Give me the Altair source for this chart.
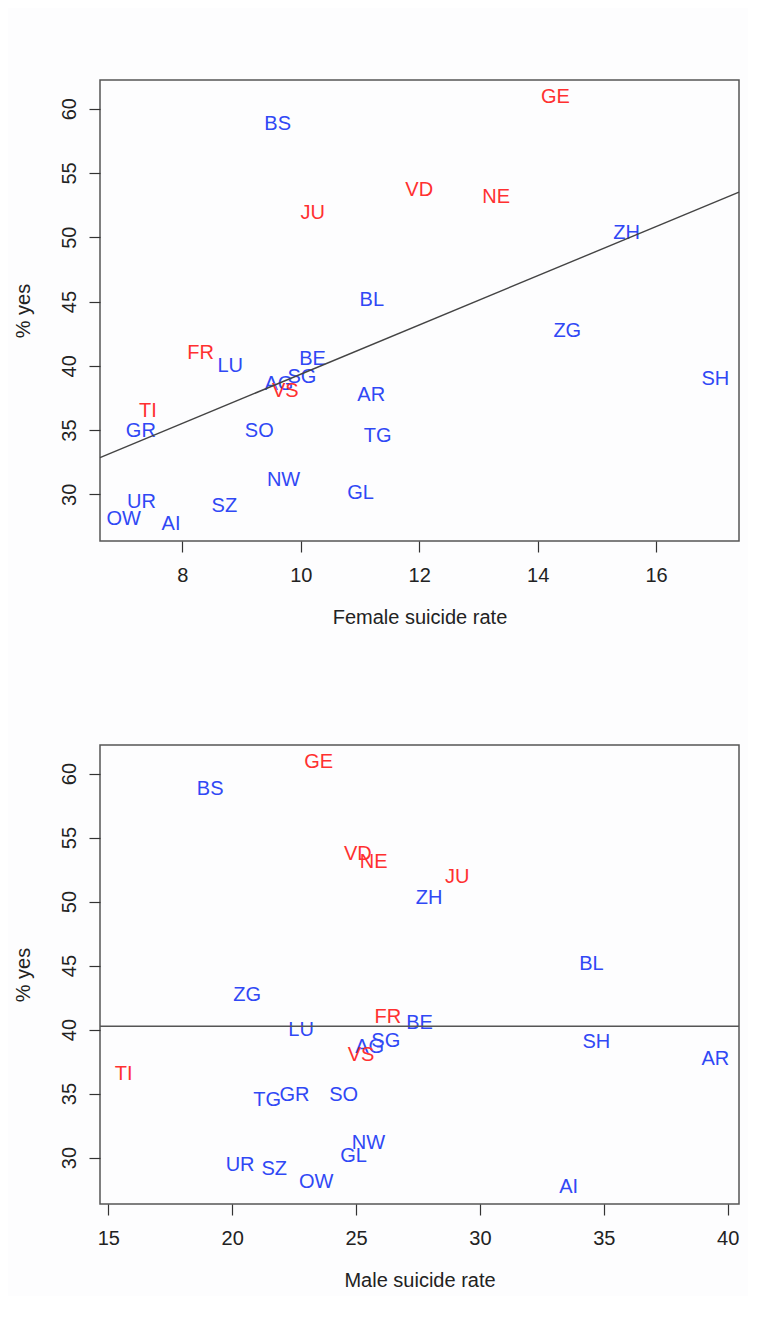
import altair as alt
import pandas as pd

# ---- data ----
canton = ["ZH", "BE", "LU", "UR", "SZ", "OW", "NW", "GL", "ZG", "FR", "SO", "BS", "BL",
          "SH", "AR", "AI", "SG", "GR", "AG", "TG", "TI", "VD", "VS", "NE", "GE", "JU"]
female = [15.50, 10.20, 8.81, 7.31, 8.71, 7.01, 9.71, 11.01, 14.50, 8.31, 9.30, 9.61, 11.20,
          17.00, 11.19, 7.81, 10.02, 7.30, 9.63, 11.30, 7.42, 12.00, 9.74, 13.30, 14.30, 10.20]
male = [27.95, 27.56, 22.78, 20.32, 21.70, 23.39, 25.50, 24.90, 20.60, 26.28, 24.50, 19.11, 34.50,
        34.70, 39.50, 33.58, 26.20, 22.51, 25.55, 21.41, 15.62, 25.07, 25.20, 25.71, 23.49, 29.08]
yes = [50.3, 40.5, 40.0, 29.4, 29.1, 28.1, 31.1, 30.1, 42.7, 41.0, 34.9, 58.8, 45.1,
       39.0, 37.7, 27.7, 39.1, 34.9, 38.6, 34.5, 36.5, 53.7, 38.0, 53.1, 60.9, 51.9]
group = ["g", "g", "g", "g", "g", "g", "g", "g", "g", "l", "g", "g", "g",
         "g", "g", "g", "g", "g", "g", "g", "l", "l", "l", "l", "l", "l"]

female_ticks = [8, 10, 12, 14, 16]
male_ticks = [15, 20, 25, 30, 35, 40]
yes_ticks = [30, 35, 40, 45, 50, 55, 60]

RED = "#ff3030"
BLUE = "#3048f5"
FONT = "Liberation Sans"

df = pd.DataFrame({"canton": canton, "female": female, "male": male, "yes": yes, "group": group})


def ext(vals):
    lo, hi = min(vals), max(vals)
    r = hi - lo
    return [lo - 0.04 * r, hi + 0.04 * r]


yd = ext(yes)
fd = ext(female)
md = ext(male)

color = alt.Color("group:N", scale=alt.Scale(domain=["l", "g"], range=[RED, BLUE]), legend=None)

yenc = alt.Y("yes:Q", scale=alt.Scale(domain=yd, nice=False, zero=False),
             axis=alt.Axis(values=yes_ticks, title="% yes", format="d", labelAngle=270,
                           labelAlign="center", labelBaseline="bottom",
                           labelPadding=10, titlePadding=26))


def xenc(col, dom, ticks, title):
    return alt.X(f"{col}:Q", scale=alt.Scale(domain=dom, nice=False, zero=False),
                 axis=alt.Axis(values=ticks, title=title, format="d", labelFlush=False,
                               labelPadding=13, titlePadding=22))


base = alt.Chart(df)

top_text = base.mark_text(font=FONT, fontSize=20, align="center", baseline="middle").encode(
    x=xenc("female", fd, female_ticks, "Female suicide rate"), y=yenc,
    text="canton:N", color=color)
top_line = base.transform_regression("female", "yes", extent=fd).mark_line(
    color="#444444", strokeWidth=1.4).encode(x="female:Q", y="yes:Q")
top = alt.layer(top_text, top_line).properties(width=639, height=461)

bot_text = base.mark_text(font=FONT, fontSize=20, align="center", baseline="middle").encode(
    x=xenc("male", md, male_ticks, "Male suicide rate"), y=yenc,
    text="canton:N", color=color)
bot_line = base.mark_rule(color="#555555", strokeWidth=1.5).encode(y="mean(yes):Q")
bot = alt.layer(bot_text, bot_line).properties(width=639, height=459)

chart = alt.vconcat(top, bot, spacing=116).properties(
    padding={"top": 71, "left": 4, "right": 5, "bottom": 5},
    background="#fdfdfe",
).configure_axis(
    domain=False, grid=False, tickColor="#333333", tickSize=11, tickWidth=1.2,
    labelFont=FONT, labelFontSize=20, labelColor="#222222",
    titleFont=FONT, titleFontSize=20, titleFontWeight="normal", titleColor="#222222",
    labelOverlap=False,
).configure_view(stroke="#555555", strokeWidth=1.5)

chart.save("out.html", embed_options={"renderer": "svg", "actions": False})
